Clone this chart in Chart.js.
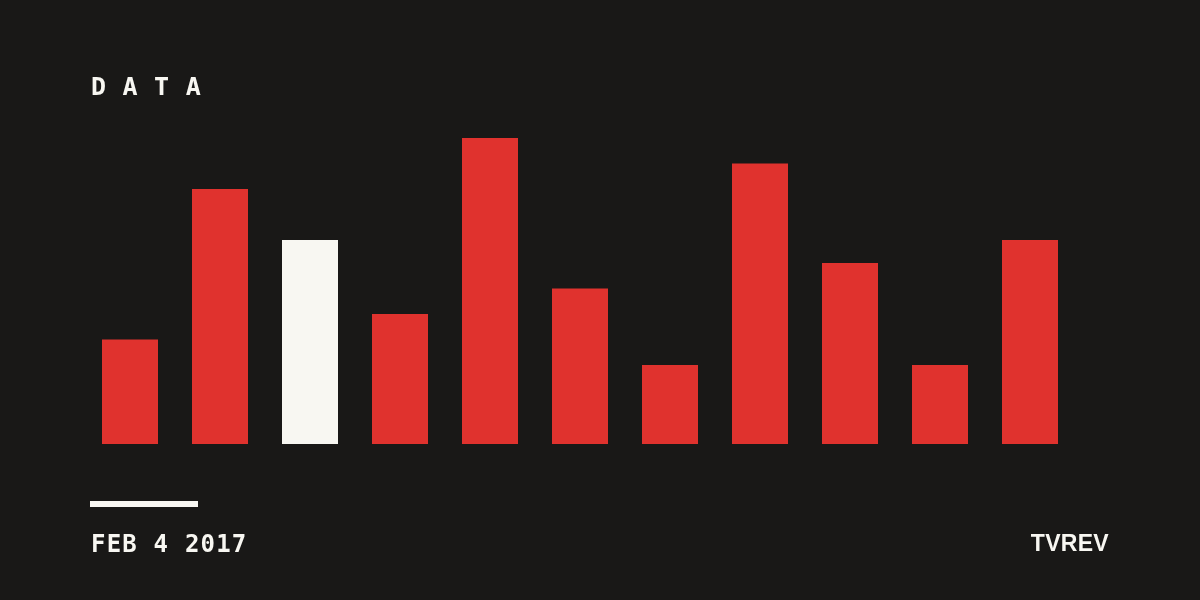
<!DOCTYPE html>
<html>
<head>
<meta charset="utf-8">
<script src="https://cdn.jsdelivr.net/npm/chart.js@4"></script>
<style>
    html, body { margin: 0; padding: 0; background: #191817; }
    #wrap { position: relative; width: 1200px; height: 600px; overflow: hidden; }
    #chart { position: absolute; left: 0; top: 0; }
    .txt { position: absolute; color: #f8f7f2; line-height: 1; white-space: nowrap; }
    #title { left: 91px; top: 72px; font: bold 25px "DejaVu Sans Mono", monospace; letter-spacing: 16.5px; }
    #date { left: 91px; top: 530px; font: bold 24px "DejaVu Sans Mono", monospace; letter-spacing: 1.2px; }
    #brand { right: 91px; top: 530px; font: bold 23px "Liberation Sans", sans-serif; letter-spacing: 0.3px; }
    #rule { position: absolute; left: 90px; top: 501px; width: 108px; height: 6px; background: #f8f7f2; }
</style>
</head>
<body>
<div id="wrap">
    <canvas id="chart" width="1200" height="600"></canvas>
    <div class="txt" id="title">DATA</div>
    <div id="rule"></div>
    <div class="txt" id="date">FEB 4 2017</div>
    <div class="txt" id="brand">TVREV</div>
</div>
<script>
    var categories = ['1', '2', '3', '4', '5', '6', '7', '8', '9', '10', '11'];
    var values = [4.1, 10, 8, 5.1, 12, 6.1, 3.1, 11, 7.1, 3.1, 8];
    var highlightIndex = 2;

    var red = '#e0322e';
    var white = '#f8f7f2';

    var colors = values.map(function (v, i) {
        return i === highlightIndex ? white : red;
    });

    new Chart(document.getElementById('chart').getContext('2d'), {
        type: 'bar',
        data: {
            labels: categories,
            datasets: [{
                data: values,
                backgroundColor: colors,
                borderWidth: 0,
                categoryPercentage: 1,
                barPercentage: 56 / 90
            }]
        },
        options: {
            responsive: false,
            animation: false,
            layout: { padding: { left: 85, right: 125, top: 87, bottom: 156 } },
            plugins: {
                legend: { display: false },
                tooltip: { enabled: false }
            },
            scales: {
                x: { display: false },
                y: { display: false, min: 0, max: 14 }
            }
        }
    });
</script>
</body>
</html>
